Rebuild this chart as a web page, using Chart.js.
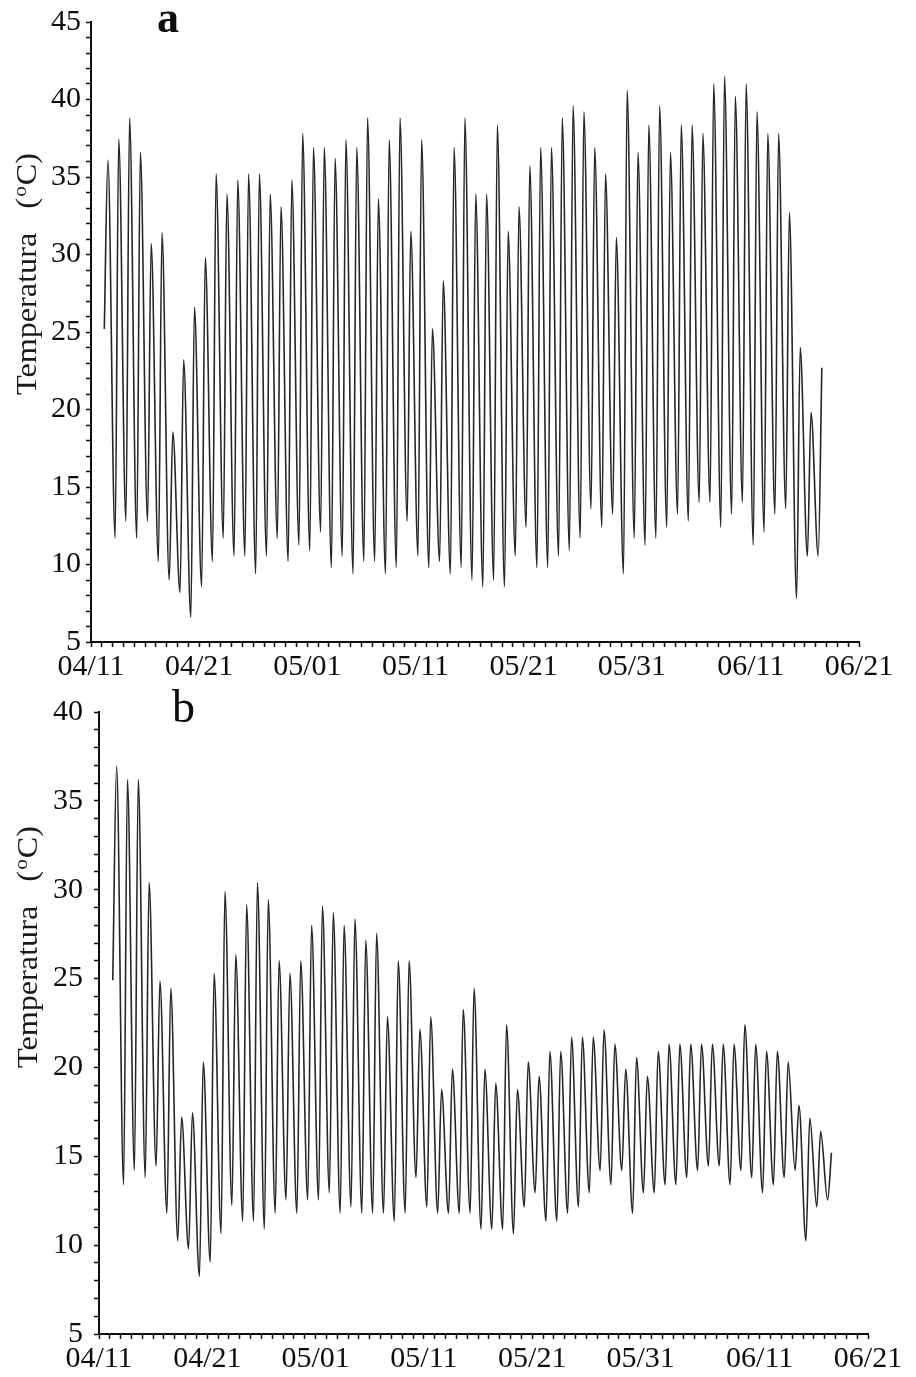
<!DOCTYPE html>
<html>
<head>
<meta charset="utf-8">
<script src="https://cdn.jsdelivr.net/npm/chart.js@4.4.1/dist/chart.umd.min.js"></script>
<style>
  html, body { margin: 0; padding: 0; background: #fff; }
  #wrap { position: relative; width: 916px; height: 1377px; }
  canvas { position: absolute; left: 0; }
</style>
</head>
<body>
<div id="wrap">
  <canvas id="chartA" width="916" height="688" style="top:0"></canvas>
  <canvas id="chartB" width="916" height="689" style="top:688px"></canvas>
</div>
<script>
// days with readings (one min and one max per day)
var days = [
  '04/12','04/13','04/14','04/15','04/16','04/17','04/18','04/19','04/20','04/21',
  '04/22','04/23','04/24','04/25','04/26','04/27','04/28','04/29','04/30',
  '05/01','05/02','05/03','05/04','05/05','05/06','05/07','05/08','05/09','05/10',
  '05/11','05/12','05/13','05/14','05/15','05/16','05/17','05/18','05/19','05/20',
  '05/21','05/22','05/23','05/24','05/25','05/26','05/27','05/28','05/29','05/30','05/31',
  '06/01','06/02','06/03','06/04','06/05','06/06','06/07','06/08','06/09','06/10',
  '06/11','06/12','06/13','06/14','06/15','06/16','06/17'
];

// panel a (first value of the min list is the first reading)
var minA = [
  25.2, 11.7, 12.8, 11.7, 12.8, 10.2, 9.0, 8.2, 6.6, 8.55,
  10.2, 11.7, 10.55, 10.55, 9.4, 10.55, 11.7, 10.2, 11.25,
  10.9, 12.1, 9.8, 10.55, 9.4, 10.2, 10.2, 9.4, 9.8, 12.8,
  10.55, 9.8, 10.2, 9.4, 9.8, 9.0, 8.55, 9.0, 8.55, 10.55,
  12.4, 9.8, 9.8, 10.55, 10.9, 11.7, 13.6, 12.4, 13.25, 9.4, 11.7,
  11.25, 11.7, 12.4, 13.25, 12.8, 14.0, 14.0, 12.4, 13.25, 14.0,
  11.25, 12.1, 13.25, 13.6, 7.8, 10.55, 10.55
];
var maxA = [
  36.1, 37.45, 38.8, 36.6, 30.7, 31.4, 18.55, 23.2, 26.6, 29.8,
  35.2, 33.9, 34.8, 35.2, 35.2, 33.9, 33.1, 34.8, 37.8,
  36.9, 36.9, 36.2, 37.4, 36.9, 38.8, 33.6, 37.4, 38.8, 31.5,
  37.4, 25.2, 28.3, 36.9, 38.8, 33.9, 33.9, 38.35, 31.5, 33.1,
  35.7, 36.9, 36.9, 38.8, 39.6, 39.2, 36.9, 35.2, 31.1, 40.6, 36.6,
  38.35, 39.6, 36.6, 38.35, 38.35, 37.8, 41.0, 41.5, 40.2, 41.0,
  39.2, 37.8, 37.8, 32.7, 24.0, 19.8, 22.7
];

// panel b
var minB = [
  24.9, 13.4, 14.2, 13.8, 14.45, 11.8, 10.25, 9.8, 8.25, 9.05,
  10.65, 12.25, 11.35, 11.35, 10.9, 11.8, 12.55, 11.8, 12.55,
  12.55, 12.95, 11.8, 12.15, 11.8, 11.8, 11.8, 11.35, 11.8, 13.8,
  12.15, 11.8, 11.8, 11.8, 11.8, 10.9, 10.9, 10.9, 10.65, 12.15,
  12.95, 11.35, 11.35, 11.8, 12.15, 12.95, 14.2, 13.4, 14.2, 11.8, 12.95,
  12.95, 13.4, 13.4, 13.8, 14.2, 14.45, 14.45, 13.4, 14.2, 13.8,
  12.95, 13.4, 13.8, 14.2, 10.25, 12.15, 12.55
];
var maxB = [
  36.95, 36.2, 36.2, 30.4, 24.85, 24.45, 17.2, 17.45, 20.3, 25.3,
  29.9, 26.35, 29.15, 30.4, 29.45, 26.0, 25.3, 26.0, 28.0,
  29.1, 28.7, 28.0, 28.35, 27.15, 27.55, 22.85, 26.0, 26.0, 22.15,
  22.85, 18.75, 19.9, 23.25, 24.45, 19.9, 19.1, 22.4, 18.75, 20.3,
  19.5, 20.9, 20.9, 21.7, 21.7, 21.7, 22.1, 21.3, 19.9, 20.55, 19.5,
  20.9, 21.3, 21.3, 21.3, 21.3, 21.3, 21.3, 21.3, 22.4, 21.3,
  20.9, 20.9, 20.3, 17.85, 17.15, 16.4, 15.2
];

var xTickLabels = ['04/11', '04/21', '05/01', '05/11', '05/21', '05/31', '06/11', '06/21'];
var yTicksA = [5, 10, 15, 20, 25, 30, 35, 40, 45];
var yTicksB = [5, 10, 15, 20, 25, 30, 35, 40];

// days counted from 04/11
var monthStart = { '04': -11, '05': 19, '06': 50 };
function dayOffset(s) {
  var p = s.split('/');
  return monthStart[p[0]] + parseInt(p[1], 10);
}

function buildSeries(mins, maxs, minHour, maxHour) {
  var pts = [];
  days.forEach(function(d, i) {
    var o = dayOffset(d);
    pts.push({ x: o + minHour / 24, y: mins[i] });
    pts.push({ x: o + maxHour / 24, y: maxs[i] });
  });
  return pts;
}

var xLabelAt = {};
xTickLabels.forEach(function(l) { xLabelAt[dayOffset(l)] = l; });
var xMin = dayOffset(xTickLabels[0]);
var xMax = dayOffset(xTickLabels[xTickLabels.length - 1]);

var serif = '"Liberation Serif", "Times New Roman", serif';
var ink = '#0d0d0d';

var panelText = {
  id: 'panelText',
  afterDraw: function(chart, args, o) {
    var ctx = chart.ctx;
    ctx.save();
    ctx.fillStyle = ink;
    ctx.textBaseline = 'alphabetic';
    ctx.textAlign = 'left';
    ctx.font = (o.bold ? 'bold ' : '') + o.letterSize + 'px ' + serif;
    ctx.fillText(o.letter, o.letterX, o.letterY);

    // rotated axis title with superscript o
    ctx.fillStyle = '#1a1a1a';
    ctx.translate(o.titleX, o.titleY);
    ctx.rotate(-Math.PI / 2);
    ctx.scale(1.11, 1);
    var big = '29px ' + serif, small = '19px ' + serif;
    var x = 0;
    ctx.font = big;
    ctx.fillText('Temperatura   (', x, 0);
    x += ctx.measureText('Temperatura   (').width + 1;
    ctx.font = small;
    ctx.fillText('o', x, -10);
    x += ctx.measureText('o').width + 1;
    ctx.font = big;
    ctx.fillText('C)', x, 0);
    ctx.restore();
  }
};

function makeChart(id, data, cfg) {
  return new Chart(document.getElementById(id), {
    type: 'line',
    data: {
      datasets: [{
        data: data,
        borderColor: '#262626',
        borderWidth: 1.6,
        pointRadius: 0,
        cubicInterpolationMode: 'monotone',
        fill: false
      }]
    },
    options: {
      responsive: false,
      animation: false,
      layout: { padding: { left: 0, top: cfg.top, right: cfg.right, bottom: cfg.bottom } },
      plugins: {
        legend: { display: false },
        tooltip: { enabled: false },
        panelText: cfg.text
      },
      scales: {
        x: {
          type: 'linear',
          min: xMin,
          max: xMax,
          afterBuildTicks: function(s) {
            var t = [];
            for (var d = xMin; d <= xMax; d++) t.push({ value: d });
            s.ticks = t;
          },
          afterFit: function(s) { s.height = 42; s.paddingLeft = 0; s.paddingRight = 0; },
          ticks: {
            autoSkip: false, maxRotation: 0, minRotation: 0, padding: 2,
            color: ink, font: { family: serif, size: 30 },
            callback: function(v) { return xLabelAt[v] || ''; }
          },
          grid: { drawOnChartArea: false, drawTicks: true, tickLength: 5, tickColor: ink, tickWidth: 1.5 },
          border: { display: true, color: ink, width: 2 }
        },
        y: {
          min: cfg.yTicks[0],
          max: cfg.yTicks[cfg.yTicks.length - 1],
          afterBuildTicks: function(s) {
            var t = [];
            for (var v = s.min; v <= s.max; v++) t.push({ value: v });
            s.ticks = t;
          },
          afterFit: function(s) { s.width = cfg.axisX; s.paddingTop = 0; s.paddingBottom = 0; },
          ticks: {
            autoSkip: false, padding: cfg.yPad,
            color: ink, font: { family: serif, size: 30 },
            callback: function(v) { return cfg.yTicks.indexOf(v) >= 0 ? String(v) : ''; }
          },
          grid: { drawOnChartArea: false, drawTicks: true, tickLength: 5, tickColor: ink, tickWidth: 1.5 },
          border: { display: true, color: ink, width: 2 }
        }
      }
    },
    plugins: [panelText]
  });
}

makeChart('chartA', buildSeries(minA, maxA, 5.5, 13.5), {
  top: 22, right: 57, bottom: 4, axisX: 91, yPad: 5, yTicks: yTicksA,
  text: { letter: 'a', bold: true, letterSize: 44, letterX: 157, letterY: 32, titleX: 36, titleY: 395 }
});

makeChart('chartB', buildSeries(minB, maxB, 6.5, 15), {
  top: 24, right: 48, bottom: 1, axisX: 99, yPad: 11, yTicks: yTicksB,
  text: { letter: 'b', bold: false, letterSize: 46, letterX: 172, letterY: 34, titleX: 37, titleY: 380 }
});
</script>
</body>
</html>
